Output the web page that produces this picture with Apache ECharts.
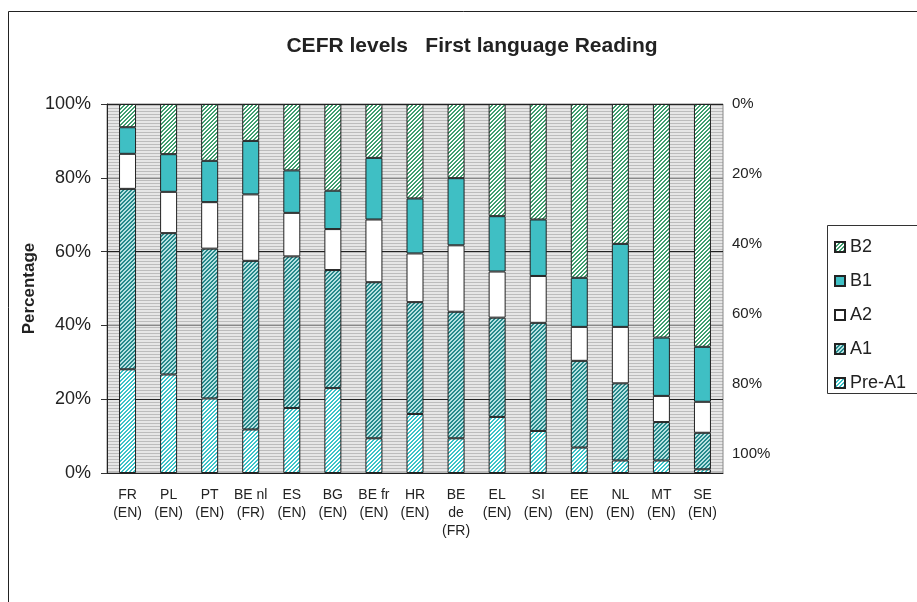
<!DOCTYPE html>
<html>
<head>
<meta charset="utf-8">
<script src="https://cdn.jsdelivr.net/npm/echarts@6/dist/echarts.min.js"></script>
<style>
  html, body { margin: 0; padding: 0; background: #fff; }
  #main { width: 917px; height: 602px; }
</style>
</head>
<body>
<div id="main"></div>
<script>
// categories and values (% of pupils per CEFR level)
var countries = ["FR\n(EN)", "PL\n(EN)", "PT\n(EN)", "BE nl\n(FR)", "ES\n(EN)", "BG\n(EN)", "BE fr\n(EN)", "HR\n(EN)",
  "BE\nde\n(FR)", "EL\n(EN)", "SI\n(EN)", "EE\n(EN)", "NL\n(EN)", "MT\n(EN)", "SE\n(EN)"];
var preA1 = [28.1, 26.7, 20.2, 11.8, 17.6, 23.0, 9.4, 16.0, 9.4, 15.2, 11.4, 6.9, 3.4, 3.4, 1.0];
var a1 = [48.9, 38.3, 40.6, 45.7, 41.1, 32.0, 42.3, 30.3, 34.3, 26.9, 29.3, 23.5, 20.9, 10.4, 9.9];
var a2 = [9.5, 11.2, 12.6, 18.0, 11.8, 11.1, 17.0, 13.2, 18.0, 12.5, 12.7, 9.2, 15.3, 7.1, 8.4];
var b1 = [7.2, 10.2, 11.2, 14.5, 11.5, 10.4, 16.7, 14.9, 18.2, 15.0, 15.3, 13.3, 22.5, 15.8, 14.9];
var b2 = [6.3, 13.6, 15.4, 10.0, 18.0, 23.5, 14.6, 25.6, 20.1, 30.4, 31.3, 47.1, 37.9, 63.3, 65.8];
var leftTicks = [0, 20, 40, 60, 80, 100];

// diagonal hatch tile "////"
function hatch(bg, fg) {
  var s = 4;
  var c = document.createElement("canvas");
  c.width = s; c.height = s;
  var ctx = c.getContext("2d");
  ctx.fillStyle = bg;
  ctx.fillRect(0, 0, s, s);
  ctx.fillStyle = fg;
  for (var x = 0; x < s; x++) {
    for (var y = 0; y < s; y++) {
      if ((x + y) % s < 2) ctx.fillRect(x, y, 1, 1);
    }
  }
  return { image: c, repeat: "repeat" };
}

// striped gray plot background
function stripes() {
  var c = document.createElement("canvas");
  c.width = 4; c.height = 3;
  var ctx = c.getContext("2d");
  ctx.fillStyle = "#e6e6e6";
  ctx.fillRect(0, 0, 4, 3);
  ctx.fillStyle = "#bcbcbc";
  ctx.fillRect(0, 0, 4, 1);
  return { image: c, repeat: "repeat" };
}

var myChart = echarts.init(document.getElementById("main"));

var font = "Liberation Sans, Arial, sans-serif";
var border = { borderColor: "#222", borderWidth: 1 };

function bar(name, data, color) {
  return {
    name: name,
    type: "bar",
    stack: "all",
    yAxisIndex: 0,
    barWidth: 17,
    data: data,
    itemStyle: Object.assign({ color: color }, border)
  };
}

var option = {
  animation: false,
  textStyle: { fontFamily: font },
  title: {
    text: "CEFR levels   First language Reading",
    left: 467,
    top: 31,
    textAlign: "center",
    textStyle: { fontSize: 21, fontWeight: "bold", color: "#222", fontFamily: font }
  },
  graphic: [
    {
      type: "rect",
      shape: { x: 8.5, y: 11.5, width: 1000, height: 700 },
      style: { fill: "none", stroke: "#222", lineWidth: 1 }
    },
    {
      type: "rect",
      shape: { x: 827.5, y: 225.5, width: 200, height: 168 },
      style: { fill: "#fff", stroke: "#333", lineWidth: 1 },
      z: 0
    }
  ],
  legend: {
    orient: "vertical",
    left: 829,
    top: 233,
    itemWidth: 10,
    itemHeight: 10,
    itemGap: 16,
    icon: "rect",
    data: ["B2", "B1", "A2", "A1", "Pre-A1"],
    textStyle: { fontSize: 18, color: "#222", fontFamily: font },
    z: 5
  },
  grid: {
    left: 107,
    right: 194,
    top: 104,
    bottom: 129,
    show: true,
    backgroundColor: stripes(),
    borderColor: "#888",
    borderWidth: 1
  },
  xAxis: {
    type: "category",
    data: countries,
    axisLine: { lineStyle: { color: "#222" } },
    axisTick: { length: 5, lineStyle: { color: "#333" } },
    axisLabel: { interval: 0, fontSize: 14, lineHeight: 18, color: "#222", margin: 13, fontFamily: font }
  },
  yAxis: [
    {
      type: "value",
      min: 0,
      max: 100,
      interval: 20,
      name: "Percentage",
      nameLocation: "middle",
      nameRotate: 90,
      nameGap: 69,
      nameMoveOverlap: false,
      nameTextStyle: { fontSize: 17, fontWeight: "bold", color: "#222", fontFamily: font },
      axisLine: { show: true, lineStyle: { color: "#222" } },
      axisTick: { show: true, length: 6, lineStyle: { color: "#333" } },
      axisLabel: { fontSize: 18, color: "#222", margin: 16, fontFamily: font,
        formatter: function (v) { return leftTicks.indexOf(v) >= 0 ? v + "%" : ""; } },
      splitLine: { show: true, lineStyle: { color: ["#888", "#222"], width: 1 } }
    },
    {
      type: "value",
      inverse: true,
      min: 0,
      max: 105.4,
      interval: 20,
      position: "right",
      axisLine: { show: false },
      axisTick: { show: false },
      splitLine: { show: false },
      axisLabel: { fontSize: 15, color: "#222", margin: 9, fontFamily: font, showMaxLabel: false,
        formatter: function (v) { return v % 20 === 0 ? v + "%" : ""; } }
    }
  ],
  series: [
    bar("Pre-A1", preA1, hatch("#ffffff", "#3cc3c8")),
    bar("A1", a1, hatch("#b8e2e2", "#26898b")),
    bar("A2", a2, "#ffffff"),
    bar("B1", b1, "#3fbfc4"),
    bar("B2", b2, hatch("#ffffff", "#3f9f6f"))
  ]
};

myChart.setOption(option);
</script>
</body>
</html>
